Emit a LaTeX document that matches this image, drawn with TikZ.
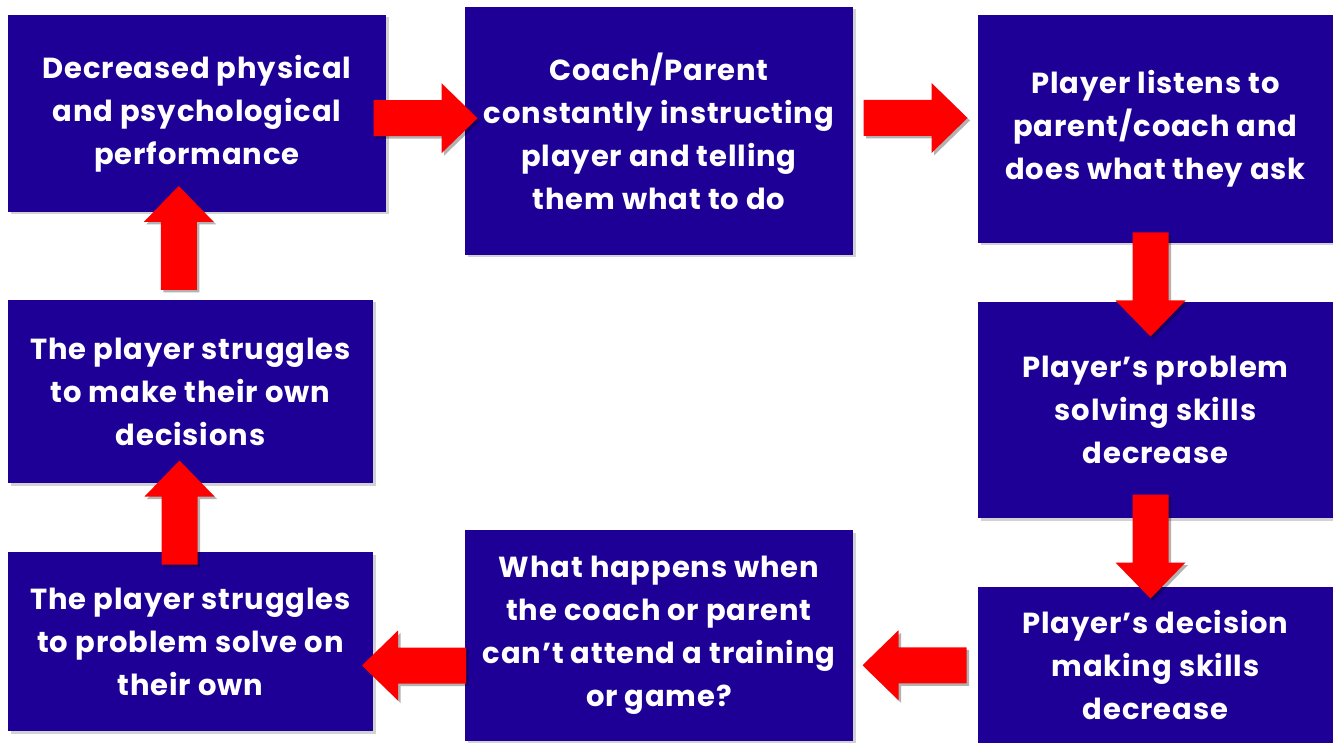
\documentclass[tikz,border=0pt]{standalone}
\usepackage{fontspec}
\setmainfont{Poppins}[LetterSpace=3]
\usetikzlibrary{shadows,calc}
\definecolor{boxblue}{RGB}{30,0,150}
\definecolor{arrred}{RGB}{255,0,0}
\tikzset{
  box/.style={fill=boxblue, text=white, align=center, inner sep=0pt,
    font=\bfseries\fontsize{29}{43}\selectfont,
    drop shadow={shadow xshift=2.5pt, shadow yshift=-2.5pt, opacity=0.35}},
  ashadow/.style={fill=black, opacity=0.3, shift={(2.5,2.5)}},
  afill/.style={fill=arrred},
  arrright/.pic={
    \fill[ashadow] (-52,-18) -- (16,-18) -- (16,-35) -- (52,0) -- (16,35) -- (16,18) -- (-52,18) -- cycle;
    \fill[afill] (-52,-18) -- (16,-18) -- (16,-35) -- (52,0) -- (16,35) -- (16,18) -- (-52,18) -- cycle;
  },
  arrleft/.pic={
    \fill[ashadow] (52,-18) -- (-16,-18) -- (-16,-35) -- (-52,0) -- (-16,35) -- (-16,18) -- (52,18) -- cycle;
    \fill[afill] (52,-18) -- (-16,-18) -- (-16,-35) -- (-52,0) -- (-16,35) -- (-16,18) -- (52,18) -- cycle;
  },
  arrdown/.pic={
    \fill[ashadow] (-18,-52) -- (-18,16) -- (-35,16) -- (0,52) -- (35,16) -- (18,16) -- (18,-52) -- cycle;
    \fill[afill] (-18,-52) -- (-18,16) -- (-35,16) -- (0,52) -- (35,16) -- (18,16) -- (18,-52) -- cycle;
  },
  arrup/.pic={
    \fill[ashadow] (-18,52) -- (-18,-16) -- (-35,-16) -- (0,-52) -- (35,-16) -- (18,-16) -- (18,52) -- cycle;
    \fill[afill] (-18,52) -- (-18,-16) -- (-35,-16) -- (0,-52) -- (35,-16) -- (18,-16) -- (18,52) -- cycle;
  }
}
\begin{document}
\begin{tikzpicture}[x=1pt,y=-1pt]
\useasboundingbox[fill=white] (0,0) rectangle (1333,743);
% boxes
\node[box, minimum width=378pt, minimum height=197pt] (A) at (197,113.5)
  {Decreased physical\\and psychological\\performance};
\node[box, minimum width=388pt, minimum height=248pt] (B) at (659,131)
  {Coach/Parent\\constantly instructing\\player and telling\\them what to do};
\node[box, minimum width=355pt, minimum height=228pt] (C) at (1155.5,129)
  {Player listens to\\parent/coach and\\does what they ask};
\node[box, minimum width=355pt, minimum height=216pt] (D) at (1155.5,410)
  {Player’s problem\\solving skills\\decrease};
\node[box, minimum width=355pt, minimum height=156pt] (E) at (1155.5,665)
  {Player’s decision\\making skills\\decrease};
\node[box, minimum width=388pt, minimum height=211pt] (F) at (659,635.5)
  {What happens when\\the coach or parent\\can’t attend a training\\or game?};
\node[box, minimum width=365pt, minimum height=179pt] (G) at (190.5,641.5)
  {The player struggles\\to problem solve on\\their own};
\node[box, minimum width=365pt, minimum height=183pt] (H) at (190.5,391.5)
  {The player struggles\\to make their own\\decisions};
% block arrows (connectors)
\pic at ($(A.east)!0.5!(B.west)+(0,-4)$) {arrright};
\pic at ($(B.east)!0.5!(C.west)+(0,-12)$) {arrright};
\pic at ($(C.south)!0.5!(D.north)+(-5,12)$) {arrdown};
\pic at ($(D.south)!0.5!(E.north)+(-5,-6)$) {arrdown};
\pic at ($(E.west)!0.5!(F.east)+(-1,15)$) {arrleft};
\pic at ($(F.west)!0.5!(G.east)+(-5,27)$) {arrleft};
\pic at ($(G.north)!0.5!(H.south)+(-11,-5)$) {arrup};
\pic at ($(H.north)!0.5!(A.south)+(-15,-18)$) {arrup};
\end{tikzpicture}
\end{document}
